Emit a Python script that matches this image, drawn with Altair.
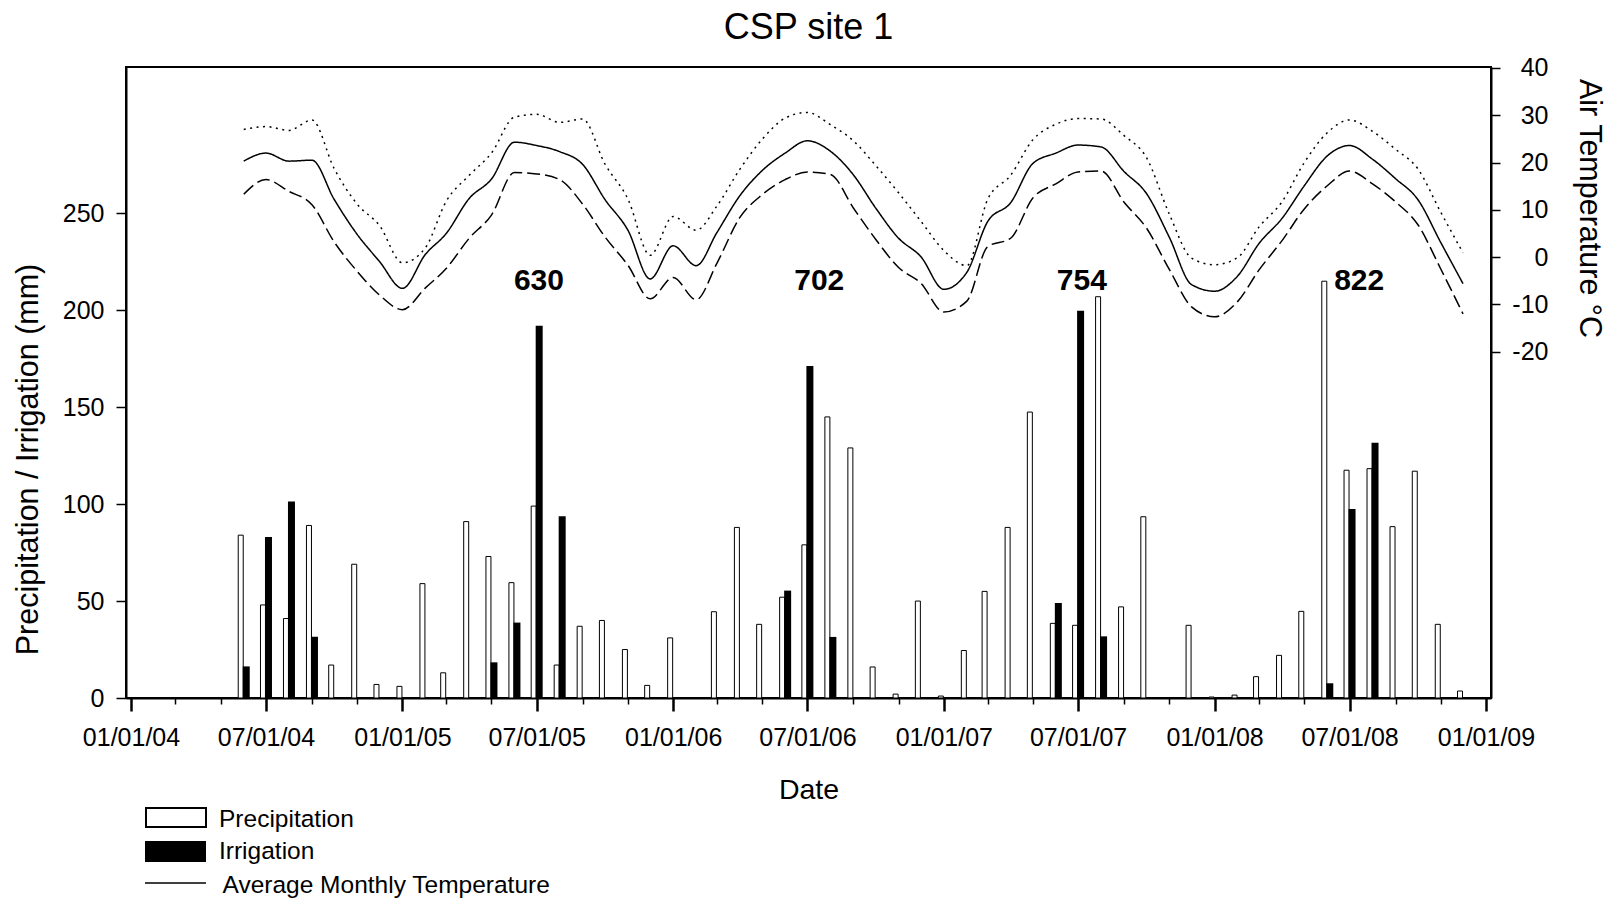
import altair as alt
import pandas as pd
from datetime import datetime, timezone

FONT = "Liberation Sans, Arial, Helvetica, sans-serif"

# ---------------- data ----------------
months = [d.strftime("%Y-%m-%d") for d in pd.date_range("2004-06-01", "2008-12-01", freq="MS")]

precipitation = [
    84, 48, 41, 89, 17, 69, 7,                                   # 2004 Jun-Dec
    6, 59, 13, 91, 73, 59.5, 99, 17, 37, 40, 25, 6.5,            # 2005
    31, None, 44.5, 88, 38, 52, 79, 145, 129, 16, 2, 50,         # 2006
    1, 24.5, 55, 88, 147.5, 38.5, 37.5, 207, 47, 93.5, None, 37.5,  # 2007
    0.5, 1.5, 11, 22, 44.7, 215, 117.5, 118.3, 88.4, 117, 38, 3.6,  # 2008
]

irr_months = ["2004-06-01", "2004-07-01", "2004-08-01", "2004-09-01",
              "2005-05-01", "2005-06-01", "2005-07-01", "2005-08-01",
              "2006-06-01", "2006-07-01", "2006-08-01",
              "2007-06-01", "2007-07-01", "2007-08-01",
              "2008-06-01", "2008-07-01", "2008-08-01"]
irrigation = [16.3, 83, 101.4, 31.6,
              18.4, 38.9, 192, 93.8,
              55.4, 171.3, 31.5,
              49, 199.7, 31.8,
              7.6, 97.5, 131.7]

t_max = [
    27.0, 27.6, 26.8, 29.0, 18.7, 11.2, 6.7,
    -1.2, 2.0, 11.8, 17.3, 22.0, 29.6, 30.2, 28.5, 29.2, 19.7, 12.3, 0.4,
    8.6, 5.7, 10.8, 18.6, 24.9, 29.4, 30.6, 28.0, 24.6, 19.4, 13.6, 7.6,
    1.4, -1.8, 12.2, 17.3, 24.8, 28.1, 29.3, 29.2, 25.7, 21.1, 9.1, -0.2,
    -1.6, -0.1, 6.4, 11.7, 20.0, 26.3, 29.0, 26.6, 22.8, 18.7, 9.5, 0.9,
]
t_avg = [
    20.3, 22.0, 20.3, 20.5, 12.2, 4.8, -0.9,
    -6.6, 0.6, 5.0, 12.4, 16.5, 24.3, 23.6, 22.3, 19.6, 12.2, 5.7, -4.6,
    2.4, -1.8, 5.2, 13.0, 18.3, 22.0, 24.6, 22.4, 17.4, 10.4, 4.0, 0.1,
    -6.8, -3.2, 7.5, 11.5, 19.8, 22.0, 23.7, 23.3, 18.1, 13.5, 4.2, -5.8,
    -7.2, -4.0, 2.9, 8.2, 15.1, 21.4, 23.6, 20.7, 16.6, 12.2, 3.1, -5.6,
]
t_min = [
    13.3, 16.4, 13.9, 11.1, 3.2, -3.0, -8.0,
    -11.1, -6.5, -2.4, 4.0, 8.9, 17.9, 17.6, 16.4, 11.2, 4.3, -1.7, -8.8,
    -4.3, -9.0, -1.3, 8.4, 13.2, 16.4, 18.0, 17.5, 10.4, 3.8, -2.2, -5.5,
    -11.6, -9.3, 2.2, 4.0, 12.5, 15.5, 18.0, 18.2, 11.6, 6.2, -2.6, -10.5,
    -12.6, -9.4, -2.7, 3.5, 10.2, 15.1, 18.2, 15.5, 11.7, 6.9, -2.5, -12.0,
]

anno_dates = ["2005-07-04", "2006-07-17", "2007-07-06", "2008-07-14"]
anno_labels = ["630", "702", "754", "822"]

series_names = ["Max", "Average", "Min"]

# ---------------- tables ----------------
df_p = pd.DataFrame({"date": months, "precip": precipitation}).dropna()
df_i = pd.DataFrame({"date": irr_months, "irr": irrigation})
df_t = pd.concat([
    pd.DataFrame({"date": months, "series": name, "temp": vals})
    for name, vals in zip(series_names, [t_max, t_avg, t_min])
])
df_a = pd.DataFrame({"date": anno_dates, "label": anno_labels})
one = pd.DataFrame({"k": [0]})


def ms(y, m, d=1):
    return int(datetime(y, m, d, tzinfo=timezone.utc).timestamp() * 1000)


major_vals = [ms(y, m) for y in range(2004, 2010) for m in (1, 7) if not (y == 2009 and m == 7)]
minor_vals = [ms(y, m) for y in range(2004, 2009) for m in (3, 5, 9, 11)]

xscale = alt.Scale(type="utc", domain=[ms(2004, 1, 1), ms(2009, 1, 1)])
yleft = alt.Scale(domain=[0, 325.5], nice=False, zero=False)
yright = alt.Scale(domain=[-93.2, 40.2], nice=False, zero=False)

major_axis = alt.Axis(
    orient="bottom", values=major_vals,
    labelExpr="utcFormat(datum.value, '%m/%d/%y')",
    tickSize=13, tickWidth=2.5, domainWidth=2, labelFontSize=25,
    labelBaseline="middle", labelPadding=26, labelFlush=False, labelOverlap=False,
    title="Date", titleFontSize=28.5, titleY=91, titleBaseline="middle",
    titleAnchor="middle",
)
minor_axis = alt.Axis(
    orient="bottom", values=minor_vals, labels=False, domain=False,
    tickSize=6, tickWidth=1.5, title=None,
)
left_axis = alt.Axis(
    orient="left", values=[0, 50, 100, 150, 200, 250], tickSize=10, tickWidth=1.5,
    domainWidth=2, labelFontSize=25, labelPadding=12,
    title="Precipitation / Irrigation (mm)", titleFontSize=30.5,
    titleX=-98, titleY=392, titleAngle=-90, titleBaseline="middle", titleAlign="center",
)
right_axis = alt.Axis(
    orient="right", values=[-20, -10, 0, 10, 20, 30, 40], tickSize=9, tickWidth=1.5,
    domainWidth=2, labelFontSize=25, labelAlign="right", labelPadding=48,
    labelExpr="toString(datum.value)",
    title="Air Temperature \u00b0C", titleFontSize=30.5,
    titleX=97, titleY=141, titleAngle=90, titleBaseline="middle", titleAlign="center",
)

precip = alt.Chart(df_p).mark_bar(
    width=5, xOffset=-3, fill="white", stroke="black", strokeWidth=1
).encode(
    x=alt.X("date:T", scale=xscale, axis=major_axis),
    y=alt.Y("precip:Q", scale=yleft, axis=left_axis),
)

irr = alt.Chart(df_i).mark_bar(width=7, xOffset=2.5, color="black").encode(
    x=alt.X("date:T", scale=xscale, axis=minor_axis),
    y=alt.Y("irr:Q", scale=yleft, axis=None),
)

temp = alt.Chart(df_t).mark_line(
    strokeWidth=1.5, interpolate="monotone", color="black"
).encode(
    x=alt.X("date:T", scale=xscale, axis=None),
    y=alt.Y("temp:Q", scale=yright, axis=right_axis),
    strokeDash=alt.StrokeDash(
        "series:N",
        scale=alt.Scale(domain=series_names, range=[[2, 4.5], [1, 0], [13, 5]]),
        legend=None,
    ),
    detail="series:N",
)

annos = alt.Chart(df_a).mark_text(
    font=FONT, fontSize=30, fontWeight="bold", baseline="middle", align="center", color="black"
).encode(
    x=alt.X("date:T", scale=xscale, axis=None),
    y=alt.value(214),
    text="label:N",
)

# manual legend below the plot
leg_p = alt.Chart(one).mark_rect(fill="white", stroke="black", strokeWidth=2).encode(
    x=alt.value(20), x2=alt.value(80), y=alt.value(741), y2=alt.value(760))
leg_i = alt.Chart(one).mark_rect(fill="black").encode(
    x=alt.value(19), x2=alt.value(80), y=alt.value(774), y2=alt.value(795))
leg_t = alt.Chart(one).mark_rule(color="black", strokeWidth=1.5).encode(
    x=alt.value(19), x2=alt.value(80), y=alt.value(816))
txt_kw = dict(font=FONT, fontSize=24.5, align="left", baseline="middle", color="black")
leg_pt = alt.Chart(one).mark_text(text="Precipitation", **txt_kw).encode(
    x=alt.value(93), y=alt.value(752.5))
leg_it = alt.Chart(one).mark_text(text="Irrigation", **txt_kw).encode(
    x=alt.value(93), y=alt.value(784.5))
leg_tt = alt.Chart(one).mark_text(text="Average Monthly Temperature", **txt_kw).encode(
    x=alt.value(96.5), y=alt.value(819))

chart = alt.layer(
    precip, irr, temp, annos, leg_p, leg_i, leg_t, leg_pt, leg_it, leg_tt
).resolve_scale(
    y="independent"
).resolve_axis(
    x="independent", y="independent"
).properties(
    width=1365, height=631,
    title=alt.TitleParams("CSP site 1", fontSize=36, font=FONT, fontWeight="normal",
                          anchor="middle", offset=9, color="black"),
    autosize=alt.AutoSizeParams(type="none"),
    padding={"left": 126, "top": 67, "right": 119, "bottom": 202},
    background="white",
).configure_view(
    stroke="black", strokeWidth=2
).configure_axis(
    grid=False, labelFont=FONT, titleFont=FONT, labelColor="black", titleColor="black",
    domainColor="black", tickColor="black", titleFontWeight="normal",
)

chart.save("out.html", embed_options={"renderer": "svg", "actions": False})
